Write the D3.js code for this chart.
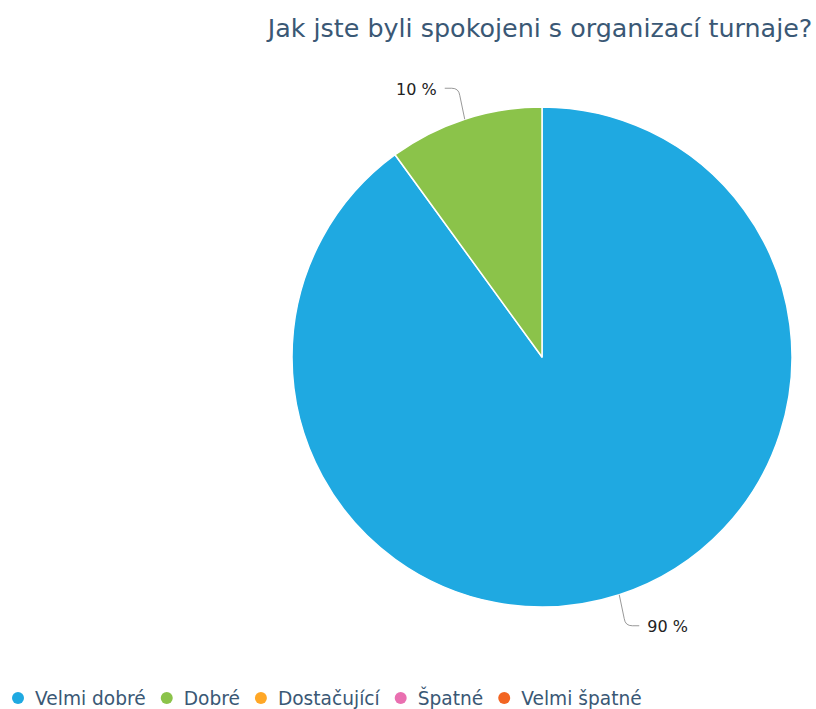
<!DOCTYPE html>
<html>
<head>
<meta charset="utf-8">
<script src="https://cdn.jsdelivr.net/npm/d3@7"></script>
<style>
  body { margin: 0; background: #fff; }
  text { font-family: "DejaVu Sans", sans-serif; }
</style>
</head>
<body>
<svg id="drawing_region"></svg>
<script>
const categories = [ 'Velmi dobré', 'Dobré', 'Dostačující', 'Špatné', 'Velmi špatné' ];
const values = [ 90, 10, 0, 0, 0 ];
const colors = [ '#1fa9e1', '#8bc34a', '#ffa726', '#e96fb0', '#f26522' ];
const title = 'Jak jste byli spokojeni s organizací turnaje?';

const width = 816, height = 709;
const cx = 542, cy = 357, radius = 250;

const data = categories.map( ( c, i ) => ( { label: c, value: values[i], color: colors[i] } ) );

const svg = d3.select( '#drawing_region' )
    .attr( 'width', width )
    .attr( 'height', height );

svg.append( 'text' )
    .attr( 'x', 540 )
    .attr( 'y', 37 )
    .attr( 'text-anchor', 'middle' )
    .attr( 'fill', '#3a5875' )
    .style( 'font-size', '25.4px' )
    .text( title );

const pie = d3.pie().sort( null ).value( d => d.value );
const arc = d3.arc().innerRadius( 0 ).outerRadius( radius );
const arcs = pie( data );

const chart = svg.append( 'g' )
    .attr( 'transform', `translate(${cx}, ${cy})` );

chart.selectAll( 'path.slice' )
    .data( arcs.filter( d => d.value > 0 ) )
    .join( 'path' )
    .attr( 'class', 'slice' )
    .attr( 'd', arc )
    .attr( 'fill', d => d.data.color )
    .attr( 'stroke', '#fff' )
    .attr( 'stroke-width', 1.5 )
    .attr( 'stroke-linejoin', 'round' );

// data labels with crooked connectors
const total = d3.sum( values );
arcs.filter( d => d.value > 0 ).forEach( d => {
    const mid = ( d.startAngle + d.endAngle ) / 2;
    const ex = radius * Math.sin( mid ), ey = -radius * Math.cos( mid );
    const side = Math.sin( mid ) < 0 ? -1 : 1;
    const vy = Math.cos( mid ) > 0 ? -1 : 1;
    const ly = ey + vy * 31;
    const kx = ex + side * 5;
    const endx = kx + side * 15;
    const path = d3.path();
    path.moveTo( ex, ey );
    path.lineTo( kx, ly - vy * 7 );
    path.quadraticCurveTo( kx + side * 1, ly, kx + side * 8, ly );
    path.lineTo( endx, ly );
    chart.append( 'path' )
        .attr( 'd', path.toString() )
        .attr( 'fill', 'none' )
        .attr( 'stroke', '#999' )
        .attr( 'stroke-width', 1 );
    chart.append( 'text' )
        .attr( 'x', endx + side * 8 )
        .attr( 'y', ly + 1 )
        .attr( 'dy', '0.35em' )
        .attr( 'text-anchor', side < 0 ? 'end' : 'start' )
        .attr( 'fill', '#222' )
        .style( 'font-size', '16px' )
        .text( Math.round( d.value / total * 100 ) + ' %' );
} );

// legend
const legend = svg.append( 'g' )
    .attr( 'transform', 'translate(0, 698)' );
let x = 18;
data.forEach( d => {
    const item = legend.append( 'g' ).attr( 'transform', `translate(${x}, 0)` );
    item.append( 'circle' )
        .attr( 'cx', 0 )
        .attr( 'cy', 0 )
        .attr( 'r', 6 )
        .attr( 'fill', d.color );
    const t = item.append( 'text' )
        .attr( 'x', 17 )
        .attr( 'y', 0 )
        .attr( 'dy', '0.35em' )
        .attr( 'fill', '#3a5875' )
        .style( 'font-size', '18.6px' )
        .text( d.label );
    x += 17 + t.node().getComputedTextLength() + 21;
} );
</script>
</body>
</html>
